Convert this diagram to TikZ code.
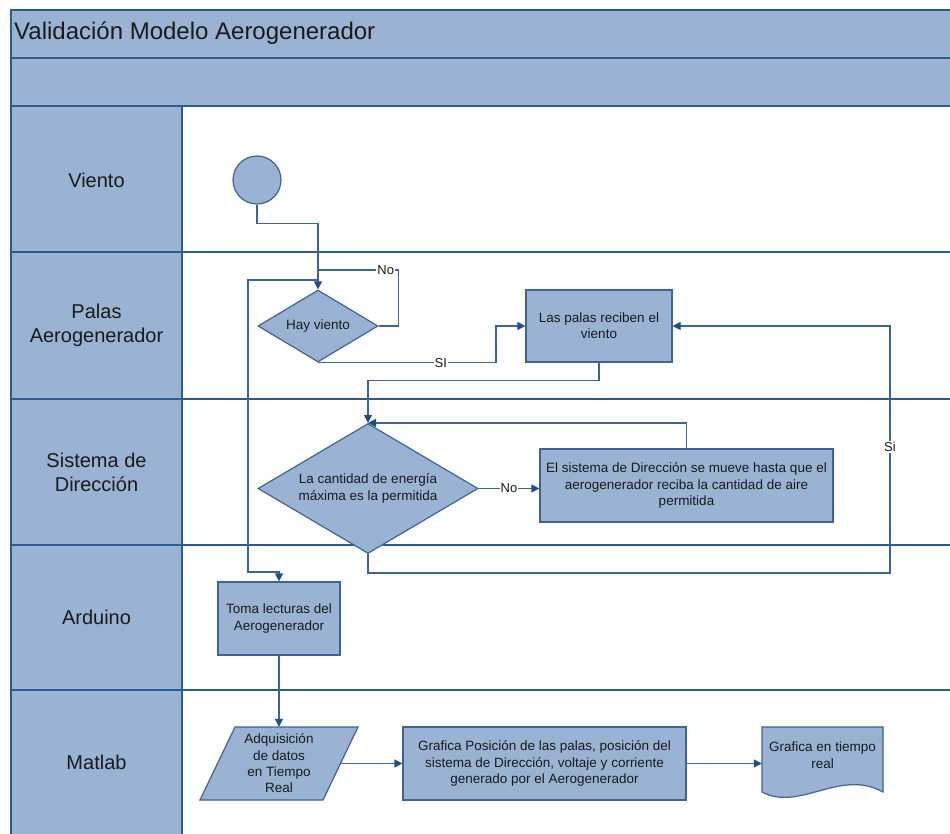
\documentclass[tikz,border=0pt]{standalone}
\usepackage{fontspec}
\setmainfont{Liberation Sans}
\usetikzlibrary{shapes.geometric,arrows.meta}
\definecolor{fillblue}{HTML}{9AB3D2}
\definecolor{frameblue}{HTML}{2F5A8F}
\definecolor{lineblue}{HTML}{3D6399}
\definecolor{tipblue}{HTML}{1F4E8C}
\definecolor{txt}{HTML}{1A1A1A}
\begin{document}
\begin{tikzpicture}[x=1pt,y=-1pt,
  lane/.style={draw=frameblue, line width=1.4pt, fill=fillblue},
  laneline/.style={draw=frameblue, line width=1.4pt},
  lanetext/.style={font=\fontsize{20}{24}\selectfont, text=txt, align=center},
  nodetext/.style={font=\fontsize{13.5}{16.3}\selectfont, text=txt, align=center},
  box/.style={draw=lineblue, line width=1.2pt, fill=fillblue, inner sep=0pt, nodetext},
  dia/.style={box, diamond},
  conn/.style={draw=lineblue, line width=1.2pt},
  arr/.style={conn, -{Triangle[width=8pt,length=8pt,color=tipblue]}},
  lbl/.style={fill=white, inner sep=1pt, font=\fontsize{13}{15}\selectfont, text=txt}
]
\useasboundingbox (0,0) rectangle (950,834);
% swimlane frame
\path[lane] (11,10) rectangle (960,58);
\path[lane] (11,58) rectangle (960,106);
\path[lane] (11,106) rectangle (182,845);
\foreach \yy in {252,399,545,690} \draw[laneline] (11,\yy) -- (960,\yy);
\node[anchor=west, inner sep=0pt, font=\fontsize{24}{28}\selectfont, text=txt] (title) at (14,33) {Validación Modelo Aerogenerador};
\node[lanetext] (l1) at (96.5,180) {Viento};
\node[lanetext] (l2) at (96.5,325.5) {Palas\\Aerogenerador};
\node[lanetext] (l3) at (96.5,472) {Sistema de\\Dirección};
\node[lanetext] (l4) at (96.5,617.5) {Arduino};
\node[lanetext] (l5) at (96.5,762) {Matlab};
% shapes
\node[box, circle, minimum size=48] (start) at (257,180) {};
\node[dia, shape aspect=1.67, minimum width=120, minimum height=72] (hv) at (318,326) {Hay viento};
\node[box, minimum width=146, minimum height=72] (palas) at (599,326) {Las palas reciben el\\viento};
\node[dia, shape aspect=1.69, minimum width=220, minimum height=130] (cant) at (368,488.5) {La cantidad de energía\\máxima es la permitida};
\node[box, minimum width=293, minimum height=73] (dir) at (686.5,485.5) {El sistema de Dirección se mueve hasta que el\\aerogenerador reciba la cantidad de aire\\permitida};
\node[box, minimum width=122, minimum height=73] (toma) at (279,618.5) {Toma lecturas del\\Aerogenerador};
\draw[box] (235,727) -- (358,727) -- (323,800) -- (200,800) -- cycle;
\node[nodetext, inner sep=0pt, minimum width=123, minimum height=73] (adq) at (279,763.5) {Adquisición\\de datos\\en Tiempo\\Real};
\node[box, minimum width=283, minimum height=73] (graf) at (544.5,763.5) {Grafica Posición de las palas, posición del\\sistema de Dirección, voltaje y corriente\\generado por el Aerogenerador};
\draw[box] (762,727) -- (883,727) -- (883,792) .. controls (840,768) and (800,812) .. (762,792) -- cycle;
\node[nodetext, anchor=north, inner xsep=0pt, inner ysep=15pt, minimum width=121] (doc) at (822.5,727) {Grafica en tiempo\\real};
% connectors
\coordinate (jno) at (318,270);
\coordinate (jtoma) at (318,280);
\draw[arr] (start.south) -- ++(0,19) -| (hv.north);
\draw[conn] (hv.east) -- ++(20,0) |- (jno) node[lbl, pos=0.58] {No};
\draw[arr] (jtoma) -| (248,572) -| (toma.north);
\draw[arr] (hv.south) -| (496,326) node[lbl, pos=0.345] {SI} -- (palas.west);
\draw[arr] (palas.south) -- ++(0,18) -| (cant.north);
\draw[arr] (cant.east) -- (cant.east -| dir.west) node[lbl, midway] {No};
\draw[arr] (dir.north) |- (cant.north);
\draw[arr] (cant.south) |- (890,573) |- (palas.east) node[lbl, pos=0.255] {Si};
\draw[arr] (toma.south) -- (adq.north);
\draw[arr] (adq.east) -- (graf.west);
\draw[arr] (graf.east) -- (graf.east -| doc.west);
\end{tikzpicture}
\end{document}
